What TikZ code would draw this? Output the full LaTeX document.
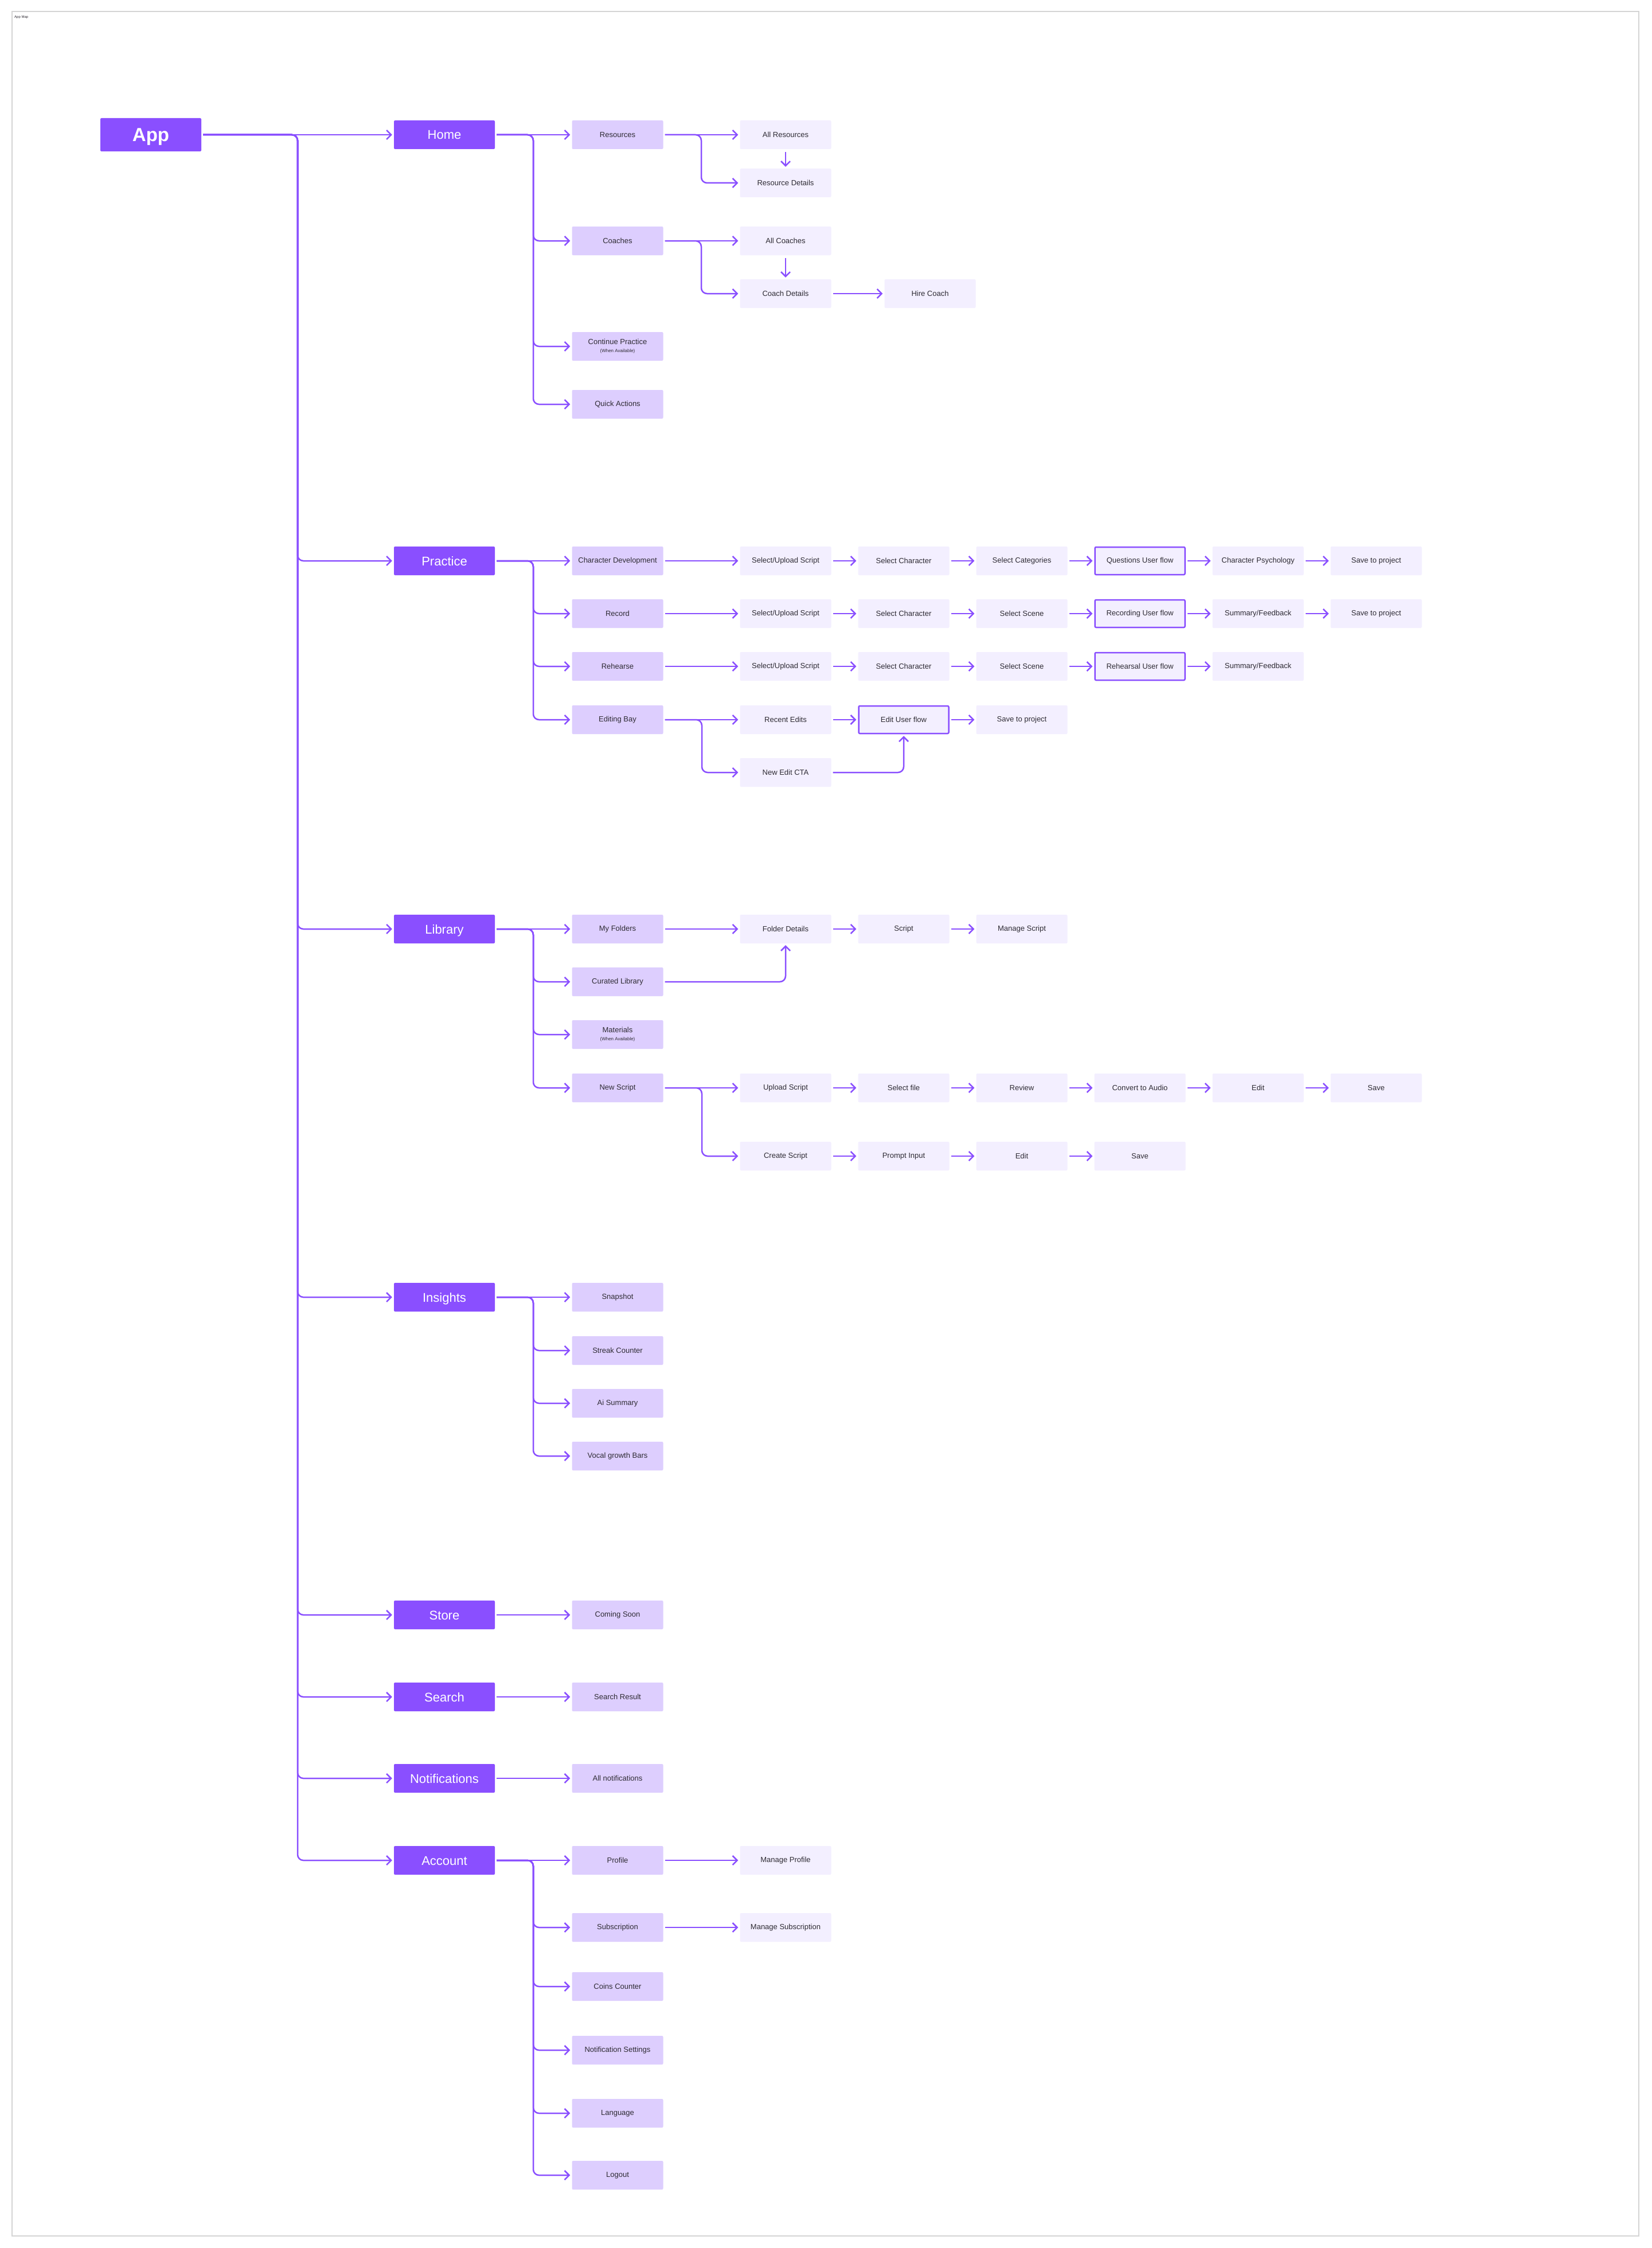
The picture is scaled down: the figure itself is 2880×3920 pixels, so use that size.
\documentclass[tikz,border=0pt]{standalone}
\usepackage{fontspec}
\setmainfont{Liberation Sans}
\usetikzlibrary{arrows.meta}
\definecolor{appvio}{HTML}{8A4FFF}
\definecolor{lav}{HTML}{DDCEFE}
\definecolor{pale}{HTML}{F3EFFF}
\definecolor{ink}{HTML}{2E2B33}
\definecolor{framegray}{HTML}{D4D4D4}
\newcommand{\smallnote}[1]{{\fontsize{8}{9}\selectfont #1}}
\begin{document}
\begin{tikzpicture}[x=1pt,y=-1pt,
  mainbox/.style={rectangle, rounded corners=2pt, fill=appvio, text=white, minimum width=176pt, minimum height=50pt, inner sep=0pt, text height=16pt, text depth=0pt, font=\fontsize{22}{26}\selectfont},
  secbox/.style={rectangle, rounded corners=2pt, fill=lav, text=ink, minimum width=159pt, minimum height=50pt, inner sep=0pt, align=center, font=\fontsize{13}{15}\selectfont},
  subbox/.style={secbox, fill=pale},
  flowbox/.style={subbox, draw=appvio, line width=2.5pt, minimum width=157pt, minimum height=48pt},
  link/.style={draw=appvio, line width=2.5pt, rounded corners=10pt, -{Straight Barb[length=8pt,width=16pt]}, shorten <=3pt, shorten >=3pt}]
\useasboundingbox (0,0) rectangle (2880,3920);
\fill[white] (0,0) rectangle (2880,3920);
\draw[framegray, line width=2pt] (21,20) rectangle (2858,3899);
\node[anchor=north west, inner sep=0pt, text=ink, font=\fontsize{6}{7}\selectfont] (title) at (25,27) {App Map};

\node[mainbox, minimum height=58pt, text height=24pt, font=\fontsize{33}{38}\selectfont\bfseries] (app) at (263,235) {App};
\node[mainbox] (home) at (775,235) {Home};
\node[mainbox] (prac) at (775,978) {Practice};
\node[mainbox] (lib) at (775,1620) {Library};
\node[mainbox] (ins) at (775,2262) {Insights};
\node[mainbox] (store) at (775,2816) {Store};
\node[mainbox] (search) at (775,2959) {Search};
\node[mainbox] (notif) at (775,3101) {Notifications};
\node[mainbox] (acc) at (775,3244) {Account};

\node[secbox] (res) at (1077,235) {Resources};
\node[secbox] (coach) at (1077,420) {Coaches};
\node[secbox] (cont) at (1077,604) {Continue Practice\\[-1pt]\smallnote{(When Available)}};
\node[secbox] (quick) at (1077,705) {Quick Actions};
\node[subbox] (allres) at (1370,235) {All Resources};
\node[subbox] (resdet) at (1370,319) {Resource Details};
\node[subbox] (allcoach) at (1370,420) {All Coaches};
\node[subbox] (coachdet) at (1370,512) {Coach Details};
\node[subbox] (hire) at (1622,512) {Hire Coach};

\node[secbox] (chardev) at (1077,978) {Character Development};
\node[secbox] (rec) at (1077,1070) {Record};
\node[secbox] (reh) at (1077,1162) {Rehearse};
\node[secbox] (bay) at (1077,1255) {Editing Bay};
\node[subbox] (cdupl) at (1370,978) {Select/Upload Script};
\node[subbox] (cdchar) at (1576,978) {Select Character};
\node[subbox] (cdcat) at (1782,978) {Select Categories};
\node[flowbox] (cdflow) at (1988,978) {Questions User flow};
\node[subbox] (cdpsy) at (2194,978) {Character Psychology};
\node[subbox] (cdsave) at (2400,978) {Save to project};
\node[subbox] (rcupl) at (1370,1070) {Select/Upload Script};
\node[subbox] (rcchar) at (1576,1070) {Select Character};
\node[subbox] (rcscene) at (1782,1070) {Select Scene};
\node[flowbox] (rcflow) at (1988,1070) {Recording User flow};
\node[subbox] (rcsum) at (2194,1070) {Summary/Feedback};
\node[subbox] (rcsave) at (2400,1070) {Save to project};
\node[subbox] (rhupl) at (1370,1162) {Select/Upload Script};
\node[subbox] (rhchar) at (1576,1162) {Select Character};
\node[subbox] (rhscene) at (1782,1162) {Select Scene};
\node[flowbox] (rhflow) at (1988,1162) {Rehearsal User flow};
\node[subbox] (rhsum) at (2194,1162) {Summary/Feedback};
\node[subbox] (recent) at (1370,1255) {Recent Edits};
\node[flowbox] (edflow) at (1576,1255) {Edit User flow};
\node[subbox] (edsave) at (1782,1255) {Save to project};
\node[subbox] (newedit) at (1370,1347) {New Edit CTA};

\node[secbox] (fold) at (1077,1620) {My Folders};
\node[secbox] (cur) at (1077,1712) {Curated Library};
\node[secbox] (mat) at (1077,1804) {Materials\\[-1pt]\smallnote{(When Available)}};
\node[secbox] (newscr) at (1077,1897) {New Script};
\node[subbox] (folddet) at (1370,1620) {Folder Details};
\node[subbox] (scr) at (1576,1620) {Script};
\node[subbox] (mscr) at (1782,1620) {Manage Script};
\node[subbox] (upl) at (1370,1897) {Upload Script};
\node[subbox] (file) at (1576,1897) {Select file};
\node[subbox] (rev) at (1782,1897) {Review};
\node[subbox] (conv) at (1988,1897) {Convert to Audio};
\node[subbox] (uedit) at (2194,1897) {Edit};
\node[subbox] (usave) at (2400,1897) {Save};
\node[subbox] (create) at (1370,2016) {Create Script};
\node[subbox] (prompt) at (1576,2016) {Prompt Input};
\node[subbox] (cedit) at (1782,2016) {Edit};
\node[subbox] (csave) at (1988,2016) {Save};

\node[secbox] (snap) at (1077,2262) {Snapshot};
\node[secbox] (streak) at (1077,2355) {Streak Counter};
\node[secbox] (aisum) at (1077,2447) {Ai Summary};
\node[secbox] (vocal) at (1077,2539) {Vocal growth Bars};

\node[secbox] (soon) at (1077,2816) {Coming Soon};
\node[secbox] (sres) at (1077,2959) {Search Result};
\node[secbox] (allnot) at (1077,3101) {All notifications};

\node[secbox] (prof) at (1077,3244) {Profile};
\node[secbox] (subs) at (1077,3361) {Subscription};
\node[secbox] (coins) at (1077,3464) {Coins Counter};
\node[secbox] (nset) at (1077,3575) {Notification Settings};
\node[secbox] (lang) at (1077,3685) {Language};
\node[secbox] (logout) at (1077,3793) {Logout};
\node[subbox] (mprof) at (1370,3244) {Manage Profile};
\node[subbox] (msubs) at (1370,3361) {Manage Subscription};

\coordinate (apptr) at (519,235);
\coordinate (hometr) at (930,235);
\coordinate (practr) at (930,978);
\coordinate (libtr) at (930,1620);
\coordinate (instr) at (930,2262);
\coordinate (acctr) at (930,3244);
\coordinate (restr) at (1223,235);
\coordinate (coachtr) at (1223,420);
\coordinate (baytr) at (1224,1255);
\coordinate (newtr) at (1224,1897);

\draw[link] (app.east) -- (home.west);
\draw[link] (app.east) -- (apptr) |- (prac.west);
\draw[link] (app.east) -- (apptr) |- (lib.west);
\draw[link] (app.east) -- (apptr) |- (ins.west);
\draw[link] (app.east) -- (apptr) |- (store.west);
\draw[link] (app.east) -- (apptr) |- (search.west);
\draw[link] (app.east) -- (apptr) |- (notif.west);
\draw[link] (app.east) -- (apptr) |- (acc.west);

\draw[link] (home.east) -- (res.west);
\draw[link] (home.east) -- (hometr) |- (coach.west);
\draw[link] (home.east) -- (hometr) |- (cont.west);
\draw[link] (home.east) -- (hometr) |- (quick.west);
\draw[link] (res.east) -- (allres.west);
\draw[link] (res.east) -- (restr) |- (resdet.west);
\draw[link, shorten <=5pt] (allres.south) -- (resdet.north);
\draw[link] (coach.east) -- (allcoach.west);
\draw[link] (coach.east) -- (coachtr) |- (coachdet.west);
\draw[link, shorten <=5pt] (allcoach.south) -- (coachdet.north);
\draw[link] (coachdet.east) -- (hire.west);

\draw[link] (prac.east) -- (chardev.west);
\draw[link] (prac.east) -- (practr) |- (rec.west);
\draw[link] (prac.east) -- (practr) |- (reh.west);
\draw[link] (prac.east) -- (practr) |- (bay.west);
\draw[link] (chardev.east) -- (cdupl.west);
\draw[link] (cdupl.east) -- (cdchar.west);
\draw[link] (cdchar.east) -- (cdcat.west);
\draw[link] (cdcat.east) -- (cdflow.west);
\draw[link] (cdflow.east) -- (cdpsy.west);
\draw[link] (cdpsy.east) -- (cdsave.west);
\draw[link] (rec.east) -- (rcupl.west);
\draw[link] (rcupl.east) -- (rcchar.west);
\draw[link] (rcchar.east) -- (rcscene.west);
\draw[link] (rcscene.east) -- (rcflow.west);
\draw[link] (rcflow.east) -- (rcsum.west);
\draw[link] (rcsum.east) -- (rcsave.west);
\draw[link] (reh.east) -- (rhupl.west);
\draw[link] (rhupl.east) -- (rhchar.west);
\draw[link] (rhchar.east) -- (rhscene.west);
\draw[link] (rhscene.east) -- (rhflow.west);
\draw[link] (rhflow.east) -- (rhsum.west);
\draw[link] (bay.east) -- (recent.west);
\draw[link] (bay.east) -- (baytr) |- (newedit.west);
\draw[link] (recent.east) -- (edflow.west);
\draw[link] (edflow.east) -- (edsave.west);
\draw[link] (newedit.east) -| (edflow.south);

\draw[link] (lib.east) -- (fold.west);
\draw[link] (lib.east) -- (libtr) |- (cur.west);
\draw[link] (lib.east) -- (libtr) |- (mat.west);
\draw[link] (lib.east) -- (libtr) |- (newscr.west);
\draw[link] (fold.east) -- (folddet.west);
\draw[link] (folddet.east) -- (scr.west);
\draw[link] (scr.east) -- (mscr.west);
\draw[link] (cur.east) -| (folddet.south);
\draw[link] (newscr.east) -- (upl.west);
\draw[link] (newscr.east) -- (newtr) |- (create.west);
\draw[link] (upl.east) -- (file.west);
\draw[link] (file.east) -- (rev.west);
\draw[link] (rev.east) -- (conv.west);
\draw[link] (conv.east) -- (uedit.west);
\draw[link] (uedit.east) -- (usave.west);
\draw[link] (create.east) -- (prompt.west);
\draw[link] (prompt.east) -- (cedit.west);
\draw[link] (cedit.east) -- (csave.west);

\draw[link] (ins.east) -- (snap.west);
\draw[link] (ins.east) -- (instr) |- (streak.west);
\draw[link] (ins.east) -- (instr) |- (aisum.west);
\draw[link] (ins.east) -- (instr) |- (vocal.west);

\draw[link] (store.east) -- (soon.west);
\draw[link] (search.east) -- (sres.west);
\draw[link] (notif.east) -- (allnot.west);

\draw[link] (acc.east) -- (prof.west);
\draw[link] (acc.east) -- (acctr) |- (subs.west);
\draw[link] (acc.east) -- (acctr) |- (coins.west);
\draw[link] (acc.east) -- (acctr) |- (nset.west);
\draw[link] (acc.east) -- (acctr) |- (lang.west);
\draw[link] (acc.east) -- (acctr) |- (logout.west);
\draw[link] (prof.east) -- (mprof.west);
\draw[link] (subs.east) -- (msubs.west);
\end{tikzpicture}
\end{document}
